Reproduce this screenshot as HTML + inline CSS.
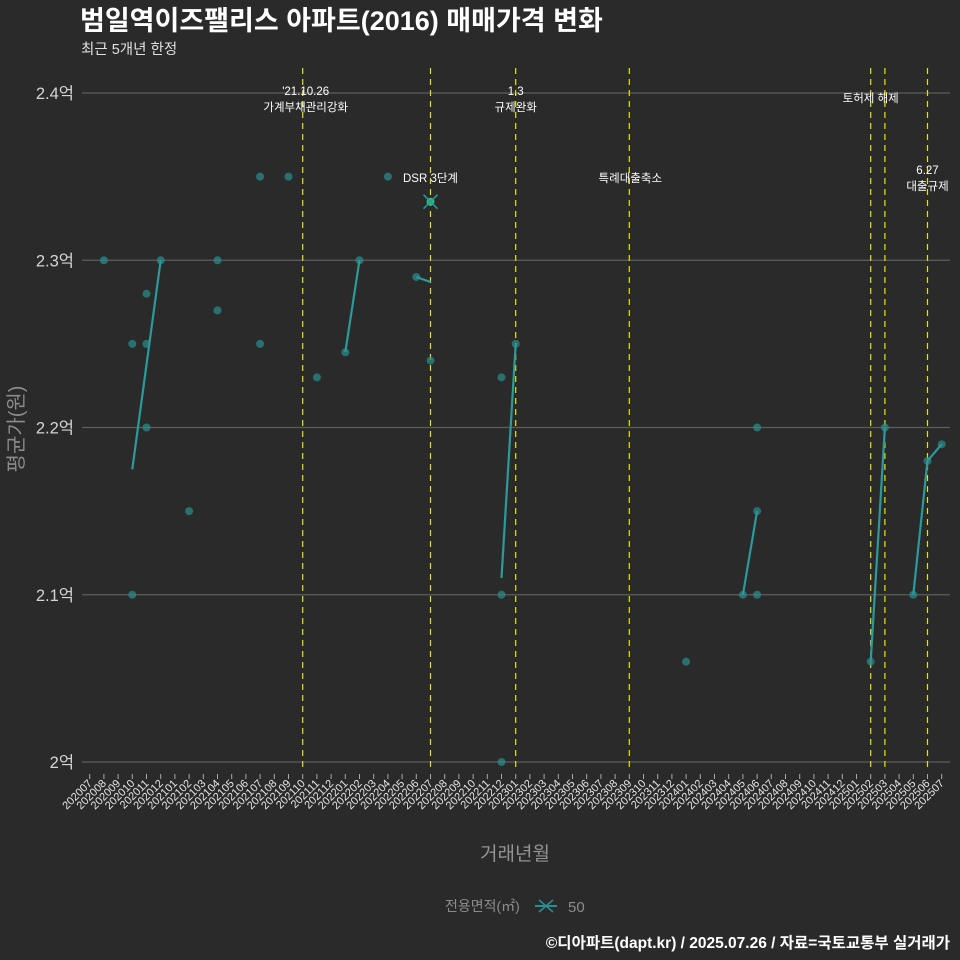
<!DOCTYPE html>
<html><head><meta charset="utf-8"><style>
html,body{margin:0;padding:0;background:#2a2a2b;}
svg{display:block;font-family:"Liberation Sans","Noto Sans CJK KR",sans-serif;}
</style></head><body>
<svg id="chart" width="960" height="960" viewBox="0 0 960 960">
<rect width="960" height="960" fill="#2a2a2b"/>
<text x="80" y="30" fill="#ffffff" font-size="27" font-weight="bold">범일역이즈팰리스 아파트(2016) 매매가격 변화</text>
<text x="81" y="54" fill="#e0e0e0" font-size="14.5">최근 5개년 한정</text>
<g id="grid"></g><g id="vlines"></g><g id="marks"></g><g id="xaxis"></g>
<text x="0" y="0" transform="translate(23,429) rotate(-90)" text-anchor="middle" fill="#8c8c8c" font-size="20">평균가(원)</text>
<text x="515" y="860" text-anchor="middle" fill="#939393" font-size="19">거래년월</text>
<g>
<text x="445" y="911" fill="#8c8c8c" font-size="14">전용면적(㎡)</text>
<g>
<line x1="535" y1="906" x2="557" y2="906" stroke="#2a8f8f" stroke-width="2"/>
<line x1="539" y1="900" x2="553" y2="912" stroke="#2a8f8f" stroke-width="1.5"/>
<line x1="539" y1="912" x2="553" y2="900" stroke="#2a8f8f" stroke-width="1.5"/>
<text x="568" y="912" fill="#8c8c8c" font-size="15">50</text></g>
</g>
<text x="950" y="948" text-anchor="end" fill="#ffffff" font-size="15.5" font-weight="bold">©디아파트(dapt.kr) / 2025.07.26 / 자료=국토교통부 실거래가</text>
</svg>
<script>
const months=[];for(let y=2020;y<=2025;y++)for(let m=1;m<=12;m++){const k=y*100+m;if(k>=202007&&k<=202507)months.push(String(k));}
const yTicks=[2.0,2.1,2.2,2.3,2.4];
const yTickLabels=["2억","2.1억","2.2억","2.3억","2.4억"];
const tradeMonths=["202008","202010","202010","202011","202011","202011","202012","202102","202104","202104","202107","202107","202109","202111","202201","202202","202204","202206","202207","202212","202212","202212","202301","202401","202405","202406","202406","202406","202502","202503","202505","202506","202507"];
const tradeValues=[2.30,2.25,2.10,2.28,2.25,2.20,2.30,2.15,2.30,2.27,2.35,2.25,2.35,2.23,2.245,2.30,2.35,2.29,2.24,2.23,2.10,2.00,2.25,2.06,2.10,2.20,2.10,2.15,2.06,2.20,2.10,2.18,2.19];
const lineSegments=[[["202010",2.175],["202011",2.2375],["202012",2.30]],[["202201",2.245],["202202",2.30]],[["202206",2.29],["202207",2.287]],[["202212",2.11],["202301",2.25]],[["202405",2.10],["202406",2.15]],[["202502",2.06],["202503",2.20]],[["202505",2.10],["202506",2.18],["202507",2.19]]];
const highlightMonth="202207";const highlightValue=2.335;
const eventMonths=["202110","202207","202301","202309","202502","202503","202506"];
const eventLabels=[["'21.10.26","가계부채관리강화"],["DSR 3단계"],["1.3","규제완화"],["특례대출축소"],["토허제 해제"],[],["6.27","대출규제"]];
const eventLabelY=[91,178,91,178,98,0,170];
const eventLabelDx=[3,0,0,1,0,0,0];

const NS="http://www.w3.org/2000/svg";
function X(m){return 89.7+months.indexOf(m)*14.2;}
function Y(v){return 762-(v-2.0)*1672.5;}
function mk(t,a,p){const e=document.createElementNS(NS,t);for(const k in a)e.setAttribute(k,a[k]);p.appendChild(e);return e;}
const grid=document.getElementById('grid'),vl=document.getElementById('vlines'),mg=document.getElementById('marks'),xa=document.getElementById('xaxis');
yTicks.forEach((v,i)=>{
 const l=mk('line',{x1:82,x2:950,y1:Y(v),y2:Y(v),stroke:'#5e5e5e','stroke-width':1.2},grid);
 
 
 const t=mk('text',{x:74,y:Y(v)+6,'text-anchor':'end',fill:'#d4d4d4','font-size':16.5},grid);t.textContent=yTickLabels[i];
 
 
});
months.forEach(m=>{
 const x=X(m);
 const tk=mk('line',{x1:x,x2:x,y1:774,y2:779,stroke:'#aaaaaa','stroke-width':1},xa);
 
 
 const t=mk('text',{x:x+3,y:784,'text-anchor':'end',fill:'#e6e6e6','font-size':11,transform:`rotate(-45 ${x+3} 784)`},xa);t.textContent=m;
 
 
});
eventMonths.forEach((m,i)=>{
 const x=X(m);
 const l=mk('line',{x1:x,x2:x,y1:68,y2:772,stroke:'#e6e600','stroke-width':1.2,'stroke-dasharray':'6,5'},vl);
 
 
 eventLabels[i].forEach((s,j)=>{
  const t=mk('text',{x:x+eventLabelDx[i],y:eventLabelY[i]+j*16+4,'text-anchor':'middle',fill:'#ffffff','font-size':11.5},vl);t.textContent=s;
  
  
 });
});
tradeMonths.forEach((m,i)=>{
 const c=mk('circle',{cx:X(m),cy:Y(tradeValues[i]),r:4,fill:'#2a8f8f','fill-opacity':0.7},mg);
 
 
});
lineSegments.forEach(seg=>{
 const p=mk('polyline',{points:seg.map(d=>X(d[0])+','+Y(d[1])).join(' '),fill:'none',stroke:'#2a9a9a','stroke-width':2.2},mg);
 
 
});
const hx=X(highlightMonth),hy=Y(highlightValue);
const hc=mk('circle',{cx:hx,cy:hy,r:4,fill:'#2fbf6f'},mg);


mk('line',{x1:hx-7,y1:hy-7,x2:hx+7,y2:hy+7,stroke:'#2a9a9a','stroke-width':1.5},mg);
mk('line',{x1:hx-7,y1:hy+7,x2:hx+7,y2:hy-7,stroke:'#2a9a9a','stroke-width':1.5},mg);
</script>
</body></html>
